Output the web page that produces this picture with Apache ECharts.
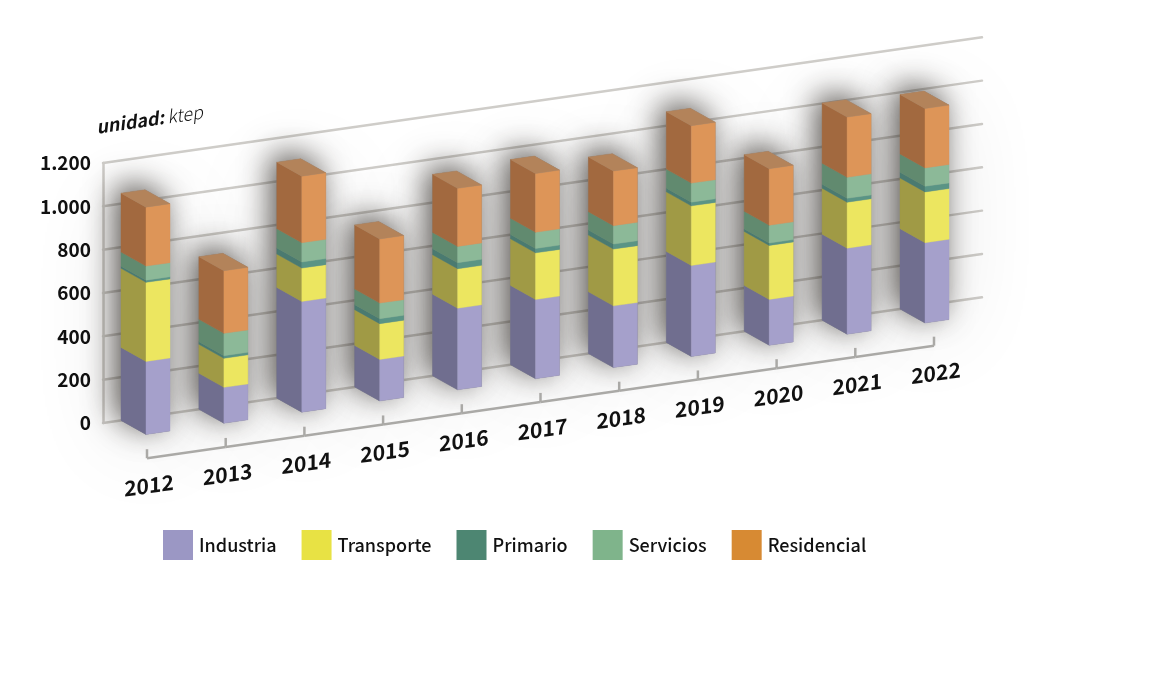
<!DOCTYPE html>
<html>
<head>
<meta charset="utf-8">
<title>Consumo por sectores</title>
<script src="https://cdn.jsdelivr.net/npm/echarts@6/dist/echarts.min.js"></script>
<style>
  html, body { margin: 0; padding: 0; background: #fff; }
  #main { width: 1168px; height: 674px; }
</style>
</head>
<body>
<div id="main"></div>
<script>
var years = [2012, 2013, 2014, 2015, 2016, 2017, 2018, 2019, 2020, 2021, 2022];
var yTicks = [0, 200, 400, 600, 800, 1000, 1200];
var seriesNames = ['Industria', 'Transporte', 'Primario', 'Servicios', 'Residencial'];

// valores, en ktep
var industria = [337, 166, 511, 192, 377, 366, 285, 420, 212, 397, 371];
var transporte = [365, 134, 154, 165, 182, 215, 262, 275, 249, 212, 234];
var primario = [10, 12, 28, 23, 28, 20, 23, 17, 11, 18, 26];
var servicios = [65, 103, 89, 72, 75, 75, 85, 88, 82, 97, 85];
var residencial = [272, 289, 307, 296, 268, 271, 252, 265, 261, 278, 274];
var layers = [industria, transporte, primario, servicios, residencial];

var legendColors = ['#9b97c4', '#e8e244', '#4d8672', '#7fb48b', '#d78a33'];
var frontColors = ['#a5a0cb', '#ece660', '#5a9485', '#8cb998', '#dd9558'];
var sideColors = ['#706e8f', '#a09a45', '#4a7a70', '#618a6f', '#a2693f'];
var topColor = '#b3835a';

var FONT = '"Noto Sans CJK SC", "Noto Sans", sans-serif';
var SLOPE = 0.143;      // inclinacion de la pared
var ANGLE = Math.atan(SLOPE);
var ORIGIN_X = 103;
var DEPTH_X = 25, DEPTH_Y = 14, FRONT_W = 24;

// cizalla del texto de los anos como rotacion + escala + rotacion
var SKEW_D = Math.atan(SLOPE / 2);
var SKEW_OUTER = Math.PI / 4 + SKEW_D / 2;
var SKEW_INNER = -(Math.PI / 4 - SKEW_D / 2);
var SKEW_S1 = (SLOPE + Math.sqrt(SLOPE * SLOPE + 4)) / 2;

// la pared esta inclinada: se sube cada punto segun su x
function shear(p) {
  return [p[0], p[1] - SLOPE * (p[0] - ORIGIN_X)];
}

// esquina trasera izquierda de la barra
function backLeft(api, year, value) {
  var c = api.coord([year, value]);
  return shear([c[0] - 24.5, c[1]]);
}

function sideFace(b0, b1) {
  return [b0, [b0[0] + DEPTH_X, b0[1] + DEPTH_Y], [b1[0] + DEPTH_X, b1[1] + DEPTH_Y], b1];
}

function frontFace(b0, b1) {
  var dy = SLOPE * FRONT_W;
  return [
    [b0[0] + DEPTH_X, b0[1] + DEPTH_Y],
    [b0[0] + DEPTH_X + FRONT_W, b0[1] + DEPTH_Y - dy],
    [b1[0] + DEPTH_X + FRONT_W, b1[1] + DEPTH_Y - dy],
    [b1[0] + DEPTH_X, b1[1] + DEPTH_Y]
  ];
}

function topFace(b) {
  var dy = SLOPE * FRONT_W;
  return [
    b,
    [b[0] + DEPTH_X, b[1] + DEPTH_Y],
    [b[0] + DEPTH_X + FRONT_W, b[1] + DEPTH_Y - dy],
    [b[0] + FRONT_W, b[1] - dy]
  ];
}

function silhouette(b0, b1) {
  var dy = SLOPE * FRONT_W;
  return [
    b0,
    [b0[0] + DEPTH_X, b0[1] + DEPTH_Y],
    [b0[0] + DEPTH_X + FRONT_W, b0[1] + DEPTH_Y - dy],
    [b1[0] + DEPTH_X + FRONT_W, b1[1] + DEPTH_Y - dy],
    [b1[0] + FRONT_W, b1[1] - dy],
    b1
  ];
}

var totals = years.map(function (y, i) {
  return layers.reduce(function (s, l) { return s + l[i]; }, 0);
});

var xMin = 2012 - 42.5 / 77.9, xMax = 2022 + 57.5 / 77.9;
// el eje de los anos va un poco mas abierto que las barras
var tickMin = 2012 - 44 / 78.7, tickMax = 2022 + 48 / 78.7;

var series = [];

// lineas de la pared
series.push({
  type: 'custom',
  silent: true,
  z: 1,
  data: yTicks.map(function (v) { return [xMin, v]; }),
  renderItem: function (params, api) {
    var a = api.coord([xMin, api.value(1)]);
    var b = api.coord([xMax, api.value(1)]);
    return {
      type: 'polyline',
      shape: { points: [shear(a), shear(b)] },
      style: { stroke: '#cfcdc9', lineWidth: 2.5, fill: null, lineCap: 'round' }
    };
  }
});

// sombras detras de las barras
series.push({
  type: 'custom',
  silent: true,
  z: 2,
  data: years.map(function (y, i) { return [y, totals[i]]; }),
  renderItem: function (params, api) {
    var b0 = backLeft(api, api.value(0), 0);
    var b1 = backLeft(api, api.value(0), api.value(1));
    var pts = silhouette(b0, b1);
    return {
      type: 'group',
      children: [
        { type: 'polygon', shape: { points: pts }, style: { fill: '#999', shadowColor: 'rgba(0,0,0,0.12)', shadowBlur: 90, shadowOffsetY: 10 } },
        { type: 'polygon', shape: { points: pts }, style: { fill: '#999', shadowColor: 'rgba(30,25,20,0.72)', shadowBlur: 30, shadowOffsetX: -6, shadowOffsetY: -6 } }
      ]
    };
  }
});

// un tramo de barra por sector
layers.forEach(function (layer, k) {
  series.push({
    name: seriesNames[k],
    type: 'custom',
    silent: true,
    z: 3,
    itemStyle: { color: legendColors[k] },
    data: years.map(function (y, i) {
      var start = 0;
      for (var j = 0; j < k; j++) start += layers[j][i];
      return [y, start, start + layer[i]];
    }),
    encode: { x: 0, y: [1, 2] },
    renderItem: function (params, api) {
      var b0 = backLeft(api, api.value(0), api.value(1));
      var b1 = backLeft(api, api.value(0), api.value(2));
      var children = [
        { type: 'polygon', shape: { points: sideFace(b0, b1) }, style: { fill: sideColors[k], stroke: sideColors[k], lineWidth: 0.4 } },
        { type: 'polygon', shape: { points: frontFace(b0, b1) }, style: { fill: frontColors[k], stroke: frontColors[k], lineWidth: 0.4 } }
      ];
      if (k === layers.length - 1) {
        children.push({ type: 'polygon', shape: { points: topFace(b1) }, style: { fill: topColor, stroke: topColor, lineWidth: 0.4 } });
      }
      return { type: 'group', children: children };
    }
  });
});

// eje de los anos, inclinado
series.push({
  type: 'custom',
  silent: true,
  xAxisIndex: 1,
  z: 2,
  data: years.map(function (y) { return [y, 0]; }),
  renderItem: function (params, api) {
    var year = api.value(0);
    var p = shear(api.coord([year, 0]));
    var axisY = p[1] + 41.5;
    var children = [
      { type: 'line', shape: { x1: p[0], y1: axisY, x2: p[0], y2: axisY - 9 }, style: { stroke: '#aaa9a6', lineWidth: 2.5 } },
      {
        type: 'group',
        x: p[0] + 2,
        y: axisY + 27,
        rotation: SKEW_OUTER,
        scaleX: SKEW_S1,
        scaleY: 1 / SKEW_S1,
        children: [{
          type: 'text',
          rotation: SKEW_INNER,
          style: {
            text: String(year),
            fill: '#111',
            font: 'bold 21px ' + FONT,
            align: 'center',
            verticalAlign: 'middle'
          }
        }]
      }
    ];
    if (year < years[years.length - 1]) {
      var q = shear(api.coord([year + 1, 0]));
      children.push({ type: 'line', shape: { x1: p[0], y1: axisY, x2: q[0], y2: q[1] + 41.5 }, style: { stroke: '#aaa9a6', lineWidth: 2.5 } });
    }
    return { type: 'group', children: children };
  }
});

var chart = echarts.init(document.getElementById('main'));
chart.setOption({
  animation: false,
  backgroundColor: '#fff',
  grid: { left: ORIGIN_X, top: 163, width: 879, height: 260 },
  xAxis: [
    { type: 'value', min: xMin, max: xMax, show: false },
    { type: 'value', min: tickMin, max: tickMax, show: false }
  ],
  yAxis: {
    type: 'value',
    min: 0,
    max: 1200,
    interval: 200,
    splitLine: { show: false },
    axisTick: { show: false },
    axisLine: { show: true, lineStyle: { color: '#cfcdc9', width: 2.5 } },
    axisLabel: {
      color: '#111',
      fontFamily: FONT,
      fontWeight: 'bold',
      fontSize: 19,
      margin: 12,
      formatter: function (v) {
        return v >= 1000 ? String(v).replace(/(\d)(\d{3})$/, '$1.$2') : String(v);
      }
    }
  },
  legend: {
    data: seriesNames,
    left: 163,
    top: 530,
    padding: 0,
    icon: 'rect',
    itemWidth: 30,
    itemHeight: 30,
    itemGap: 25,
    selectedMode: false,
    textStyle: { color: '#111', fontFamily: FONT, fontSize: 18, fontWeight: 500, padding: [0, 0, 0, 1] }
  },
  graphic: [{
    type: 'text',
    x: 95,
    y: 118,
    rotation: ANGLE,
    style: {
      text: '{a|unidad:} {b|ktep}',
      rich: {
        a: { font: 'italic bold 18px ' + FONT, fill: '#111' },
        b: { font: 'italic 300 18px ' + FONT, fill: '#111' }
      }
    }
  }],
  series: series
});
</script>
</body>
</html>
